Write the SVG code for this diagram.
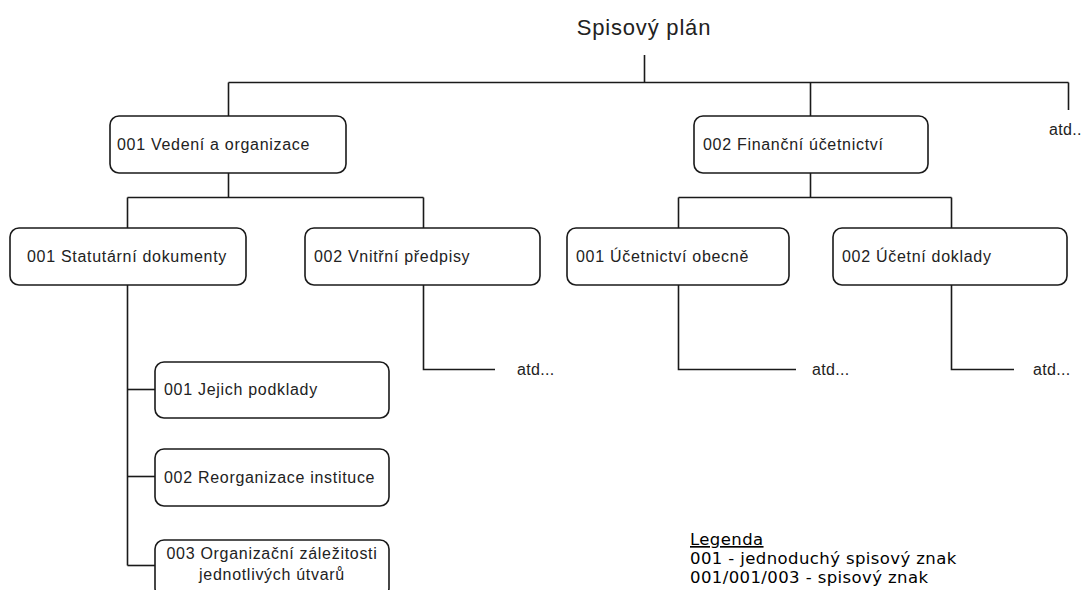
<svg xmlns="http://www.w3.org/2000/svg" width="1083" height="590" viewBox="0 0 1083 590">
<style>
  .box { fill: #ffffff; stroke: #1a1a1a; stroke-width: 1.6; }
  .lbl { font-family: "Liberation Sans", Arial, sans-serif; font-size: 16px; letter-spacing: 0.7px; fill: #222; }
  .atd { font-family: "Liberation Sans", Arial, sans-serif; font-size: 16px; letter-spacing: 0.3px; fill: #222; }
  .title { font-family: "Liberation Sans", Arial, sans-serif; font-size: 22px; letter-spacing: 0.8px; fill: #222; }
  .leg { font-family: "DejaVu Sans", Verdana, sans-serif; font-size: 16.5px; letter-spacing: 0.4px; fill: #000; }
  .conn line, .conn polyline { stroke: #1a1a1a; stroke-width: 1.6; fill: none; }
</style>
<rect x="0" y="0" width="1083" height="590" fill="#ffffff"/>

<g id="title">
  <text class="title" x="644" y="35" text-anchor="middle">Spisový plán</text>
</g>

<g id="connectors" class="conn">
  <line x1="644.5" y1="55" x2="644.5" y2="82.5"/>
  <line x1="228.5" y1="82.5" x2="1068.5" y2="82.5"/>
  <line x1="228.5" y1="82.5" x2="228.5" y2="116"/>
  <line x1="810.5" y1="82.5" x2="810.5" y2="116"/>
  <line x1="1068.5" y1="82.5" x2="1068.5" y2="110"/>

  <line x1="228.5" y1="173" x2="228.5" y2="197.5"/>
  <line x1="127.5" y1="197.5" x2="423.5" y2="197.5"/>
  <line x1="127.5" y1="197.5" x2="127.5" y2="228"/>
  <line x1="423.5" y1="197.5" x2="423.5" y2="228"/>

  <line x1="810.5" y1="173" x2="810.5" y2="197.5"/>
  <line x1="678.5" y1="197.5" x2="951.5" y2="197.5"/>
  <line x1="678.5" y1="197.5" x2="678.5" y2="228"/>
  <line x1="951.5" y1="197.5" x2="951.5" y2="228"/>

  <polyline points="423.5,285 423.5,369.5 495,369.5"/>
  <polyline points="678.5,285 678.5,369.5 796,369.5"/>
  <polyline points="951.5,285 951.5,369.5 1014,369.5"/>

  <line x1="127.5" y1="285" x2="127.5" y2="565.5"/>
  <line x1="127.5" y1="389.5" x2="155" y2="389.5"/>
  <line x1="127.5" y1="476.5" x2="155" y2="476.5"/>
  <line x1="127.5" y1="565.5" x2="155" y2="565.5"/>
</g>

<g id="node-001">
  <rect class="box" x="110" y="116" width="236" height="57" rx="9"/>
  <text class="lbl" x="117" y="150">001 Vedení a organizace</text>
</g>
<g id="node-002">
  <rect class="box" x="694" y="116" width="234" height="57" rx="9"/>
  <text class="lbl" x="703" y="150">002 Finanční účetnictví</text>
</g>
<g id="atd-top">
  <text class="atd" x="1049" y="135">atd..</text>
</g>

<g id="node-001-001">
  <rect class="box" x="10" y="228" width="236" height="57" rx="9"/>
  <text class="lbl" x="27" y="262">001 Statutární dokumenty</text>
</g>
<g id="node-001-002">
  <rect class="box" x="305" y="228" width="235" height="57" rx="9"/>
  <text class="lbl" x="314" y="262">002 Vnitřní předpisy</text>
</g>
<g id="node-002-001">
  <rect class="box" x="567" y="228" width="222" height="57" rx="9"/>
  <text class="lbl" x="576" y="262">001 Účetnictví obecně</text>
</g>
<g id="node-002-002">
  <rect class="box" x="833" y="228" width="234" height="57" rx="9"/>
  <text class="lbl" x="842" y="262">002 Účetní doklady</text>
</g>

<g id="atd-labels">
  <text class="atd" x="517" y="375">atd...</text>
  <text class="atd" x="812" y="375">atd...</text>
  <text class="atd" x="1033" y="375">atd...</text>
</g>

<g id="node-001-001-001">
  <rect class="box" x="155" y="362" width="234" height="56" rx="9"/>
  <text class="lbl" x="164" y="395">001 Jejich podklady</text>
</g>
<g id="node-001-001-002">
  <rect class="box" x="155" y="449" width="234" height="57" rx="9"/>
  <text class="lbl" x="164" y="483">002 Reorganizace instituce</text>
</g>
<g id="node-001-001-003">
  <rect class="box" x="155" y="540" width="234" height="57" rx="9"/>
  <text class="lbl" x="272" y="559" text-anchor="middle">003 Organizační záležitosti</text>
  <text class="lbl" x="272" y="580" text-anchor="middle">jednotlivých útvarů</text>
</g>

<g id="legend">
  <text class="leg" x="690" y="545" text-decoration="underline">Legenda</text>
  <text class="leg" x="690" y="564">001 - jednoduchý spisový znak</text>
  <text class="leg" x="690" y="583">001/001/003 - spisový znak</text>
</g>
</svg>
